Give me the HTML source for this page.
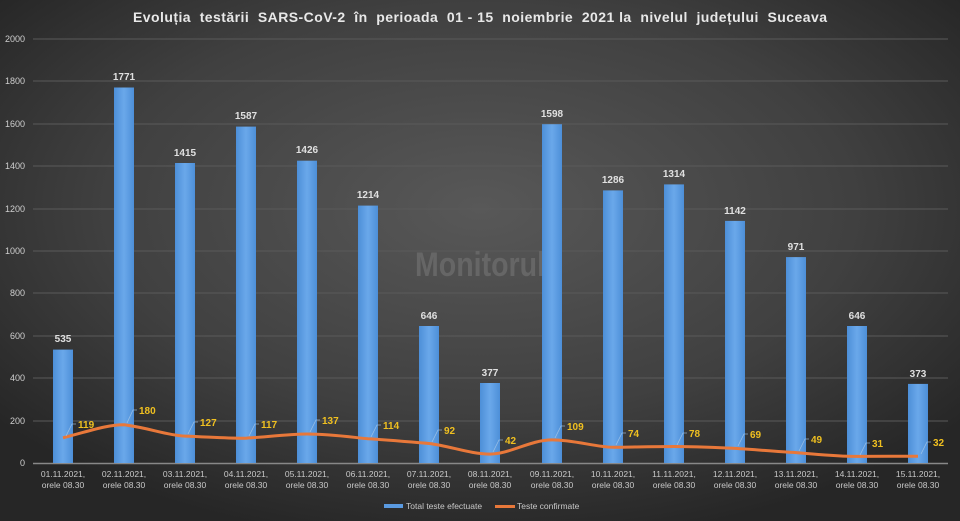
<!DOCTYPE html>
<html><head><meta charset="utf-8"><style>
html,body{margin:0;padding:0;width:960px;height:521px;overflow:hidden;background:#333}
svg{display:block}
text{font-family:"Liberation Sans",sans-serif}
</style></head><body>
<svg width="960" height="521" viewBox="0 0 960 521" xmlns="http://www.w3.org/2000/svg">
<defs>
<radialGradient id="bg" cx="50%" cy="40%" r="65%">
<stop offset="0" stop-color="#585858"/><stop offset="0.6" stop-color="#404040"/><stop offset="1" stop-color="#262626"/>
</radialGradient>
<linearGradient id="bar" x1="0" x2="1"><stop offset="0" stop-color="#4d8fd8"/><stop offset="0.5" stop-color="#6aa8ea"/><stop offset="1" stop-color="#4d8fd8"/></linearGradient>
</defs>
<rect width="960" height="521" fill="url(#bg)"/>
<text x="480" y="22" fill="#e8e8e8" font-size="14" font-weight="bold" text-anchor="middle" textLength="694" lengthAdjust="spacing" xml:space="preserve">Evoluția  testării  SARS-CoV-2  în  perioada  01 - 15  noiembrie  2021 la  nivelul  județului  Suceava</text>
<g stroke="#5a5a5a" stroke-width="1">
<line x1="33" x2="948" y1="39" y2="39"/><line x1="33" x2="948" y1="81" y2="81"/><line x1="33" x2="948" y1="124" y2="124"/><line x1="33" x2="948" y1="166" y2="166"/><line x1="33" x2="948" y1="209" y2="209"/><line x1="33" x2="948" y1="251" y2="251"/><line x1="33" x2="948" y1="293" y2="293"/><line x1="33" x2="948" y1="336" y2="336"/><line x1="33" x2="948" y1="378" y2="378"/><line x1="33" x2="948" y1="421" y2="421"/>
</g>
<line x1="33" x2="948" y1="463.5" y2="463.5" stroke="#888" stroke-width="1.5"/>
<g fill="#cfcfcf" font-size="9" text-anchor="end">
<text x="25" y="42">2000</text><text x="25" y="84">1800</text><text x="25" y="127">1600</text><text x="25" y="169">1400</text><text x="25" y="212">1200</text><text x="25" y="254">1000</text><text x="25" y="296">800</text><text x="25" y="339">600</text><text x="25" y="381">400</text><text x="25" y="424">200</text><text x="25" y="466">0</text>
</g>
<text x="415" y="276" fill="#666" font-size="34" font-weight="bold" textLength="130" lengthAdjust="spacingAndGlyphs">Monitorul</text>
<g fill="url(#bar)">
<rect x="53" y="349.6" width="20" height="113.4"/>
<rect x="114" y="87.5" width="20" height="375.5"/>
<rect x="175" y="163" width="20" height="300"/>
<rect x="236" y="126.6" width="20" height="336.4"/>
<rect x="297" y="160.7" width="20" height="302.3"/>
<rect x="358" y="205.6" width="20" height="257.4"/>
<rect x="419" y="326" width="20" height="137"/>
<rect x="480" y="383" width="20" height="80"/>
<rect x="542" y="124.2" width="20" height="338.8"/>
<rect x="603" y="190.4" width="20" height="272.6"/>
<rect x="664" y="184.4" width="20" height="278.6"/>
<rect x="725" y="220.9" width="20" height="242.1"/>
<rect x="786" y="257.1" width="20" height="205.9"/>
<rect x="847" y="326" width="20" height="137"/>
<rect x="908" y="383.9" width="20" height="79.1"/>
</g>
<g fill="#e0e0e0" font-size="10" font-weight="bold" text-anchor="middle">
<text x="63" y="342">535</text><text x="124" y="80">1771</text><text x="185" y="156">1415</text><text x="246" y="119">1587</text><text x="307" y="153">1426</text><text x="368" y="198">1214</text><text x="429" y="319">646</text><text x="490" y="376">377</text><text x="552" y="117">1598</text><text x="613" y="183">1286</text><text x="674" y="177">1314</text><text x="735" y="214">1142</text><text x="796" y="250">971</text><text x="857" y="319">646</text><text x="918" y="377">373</text>
</g>
<path fill="none" stroke="#e8783a" stroke-width="3" stroke-linejoin="round" d="M63,437.8 C90,431 105,425 124,424.8 C150,428 165,435 185,436.1 C210,437 230,438.5 246,438.2 C265,437 290,434 307,434 C330,434 350,437 368,438.8 C390,440 410,442 429,443.5 C450,446 470,454 490,454.1 C510,454 530,440 552,439.9 C575,440 595,447 613,447.3 C635,447 655,446.5 674,446.5 C695,446.5 715,447.5 735,448.4 C755,449.5 775,451.5 796,452.6 C815,454 835,456.4 857,456.4 C880,456.4 900,456.2 918,456.2"/>
<g stroke="#a8c8e8" stroke-width="0.8" fill="none" opacity="0.8">
<polyline points="66,436 72,424 76,424"/><polyline points="127,423 133,410 137,410"/><polyline points="188,434 194,422 198,422"/><polyline points="249,436 255,424 259,424"/><polyline points="310,432 316,420 320,420"/><polyline points="371,437 377,425 381,425"/><polyline points="432,442 438,430 442,430"/><polyline points="493,452 499,440 503,440"/><polyline points="555,438 561,426 565,426"/><polyline points="616,445 622,433 626,433"/><polyline points="677,445 683,433 687,433"/><polyline points="738,446 744,434 748,434"/><polyline points="799,451 805,439 809,439"/><polyline points="860,455 866,443 870,443"/><polyline points="921,454 927,442 931,442"/>
</g>
<g fill="#f0c020" font-size="10" font-weight="bold">
<text x="78" y="428">119</text><text x="139" y="414">180</text><text x="200" y="426">127</text><text x="261" y="428">117</text><text x="322" y="424">137</text><text x="383" y="429">114</text><text x="444" y="434">92</text><text x="505" y="444">42</text><text x="567" y="430">109</text><text x="628" y="437">74</text><text x="689" y="437">78</text><text x="750" y="438">69</text><text x="811" y="443">49</text><text x="872" y="447">31</text><text x="933" y="446">32</text>
</g>
<g fill="#c8c8c8" font-size="8.5" text-anchor="middle">
<text x="63" y="477">01.11.2021,</text><text x="63" y="488">orele 08.30</text>
<text x="124" y="477">02.11.2021,</text><text x="124" y="488">orele 08.30</text>
<text x="185" y="477">03.11.2021,</text><text x="185" y="488">orele 08.30</text>
<text x="246" y="477">04.11.2021,</text><text x="246" y="488">orele 08.30</text>
<text x="307" y="477">05.11.2021,</text><text x="307" y="488">orele 08.30</text>
<text x="368" y="477">06.11.2021,</text><text x="368" y="488">orele 08.30</text>
<text x="429" y="477">07.11.2021,</text><text x="429" y="488">orele 08.30</text>
<text x="490" y="477">08.11.2021,</text><text x="490" y="488">orele 08.30</text>
<text x="552" y="477">09.11.2021,</text><text x="552" y="488">orele 08.30</text>
<text x="613" y="477">10.11.2021,</text><text x="613" y="488">orele 08.30</text>
<text x="674" y="477">11.11.2021,</text><text x="674" y="488">orele 08.30</text>
<text x="735" y="477">12.11.2021,</text><text x="735" y="488">orele 08.30</text>
<text x="796" y="477">13.11.2021,</text><text x="796" y="488">orele 08.30</text>
<text x="857" y="477">14.11.2021,</text><text x="857" y="488">orele 08.30</text>
<text x="918" y="477">15.11.2021,</text><text x="918" y="488">orele 08.30</text>
</g>
<rect x="384" y="504" width="19" height="4" fill="#5a9ae0"/>
<text x="406" y="509" fill="#c8c8c8" font-size="8.5">Total teste efectuate</text>
<rect x="495" y="505" width="20" height="3" fill="#e8783a"/>
<text x="517" y="509" fill="#c8c8c8" font-size="8.5">Teste confirmate</text>
</svg>
</body></html>
